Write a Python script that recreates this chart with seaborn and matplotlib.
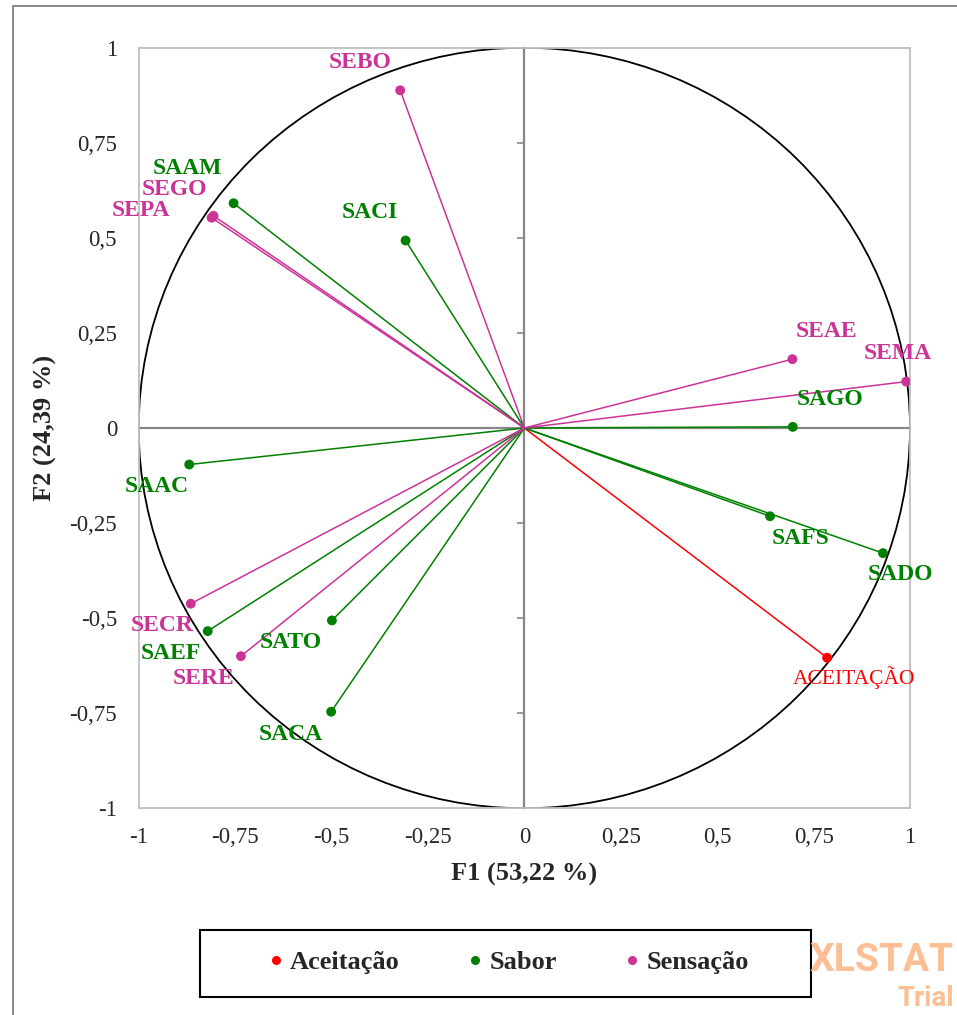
import matplotlib
matplotlib.use("Agg")
import matplotlib.pyplot as plt
import seaborn as sns
import pandas as pd
from matplotlib.patches import Circle, Rectangle
from matplotlib.lines import Line2D

# ---------------- data ----------------
variables = ["SEBO", "SAAM", "SEGO", "SEPA", "SACI", "SEAE", "SEMA", "SAGO",
             "SAAC", "SAFS", "SADO", "SECR", "SAEF", "SATO", "SERE", "SACA",
             "ACEITAÇÃO"]
groups = ["Sensação", "Sabor", "Sensação", "Sensação", "Sabor", "Sensação",
          "Sensação", "Sabor", "Sabor", "Sabor", "Sabor", "Sensação", "Sabor",
          "Sabor", "Sensação", "Sabor", "Aceitação"]
f1 = [-0.322, -0.754, -0.806, -0.811, -0.308, 0.695, 0.990, 0.696,
      -0.869, 0.637, 0.930, -0.865, -0.821, -0.499, -0.735, -0.501, 0.785]
f2 = [0.888, 0.591, 0.558, 0.553, 0.493, 0.181, 0.122, 0.003,
      -0.096, -0.232, -0.329, -0.462, -0.534, -0.506, -0.600, -0.746, -0.604]

hue_order = ["Aceitação", "Sabor", "Sensação"]
tick_vals = [-1, -0.75, -0.5, -0.25, 0, 0.25, 0.5, 0.75, 1]
tick_labels = ["-1", "-0,75", "-0,5", "-0,25", "0", "0,25", "0,5", "0,75", "1"]
x_title = "F1 (53,22 %)"
y_title = "F2 (24,39 %)"

# ---------------- style ----------------
palette = {"Aceitação": "#FF0000", "Sabor": "#008000", "Sensação": "#CC3399"}
# label offsets (pixels, cap-centre relative to point; +y = up)
label_offsets = {
    "SEBO": (-40, 30), "SAAM": (-46, 37), "SEGO": (-39, 29), "SEPA": (-71, 9),
    "SACI": (-36, 30), "SEAE": (34, 30), "SEMA": (-8, 30), "SAGO": (37, 30),
    "SAAC": (-32, -20), "SAFS": (31, -20), "SADO": (17, -19), "SECR": (-29, -20),
    "SAEF": (-37, -20), "SATO": (-41, -20), "SERE": (-37, -20), "SACA": (-40, -20),
    "ACEITAÇÃO": (27, -19),
}

sns.set_style("white")
plt.rcParams["font.family"] = ["Liberation Serif", "DejaVu Serif"]

W, H = 957, 1015
fig = plt.figure(figsize=(W / 100, H / 100), dpi=100)


def fx(px):
    return px / W


def fy(py):
    return 1 - py / H


L, R, T, B = 138.7, 910.0, 47.7, 808.3
pos = [fx(L), fy(B), (R - L) / W, (B - T) / H]

# underlying axes: zero axes with tick marks
ax2 = fig.add_axes(pos)
ax2.set_xlim(-1, 1)
ax2.set_ylim(-1, 1)
for s in ["top", "right"]:
    ax2.spines[s].set_visible(False)
for s in ["left", "bottom"]:
    ax2.spines[s].set_position(("data", 0))
    ax2.spines[s].set_color("#878787")
    ax2.spines[s].set_linewidth(1.6)
ax2.set_yticks(tick_vals)
ax2.set_xticks([])
ax2.tick_params(axis="y", direction="out", length=5, width=1.2,
                color="#878787", labelleft=False, left=True)
ax2.set_facecolor("white")

# main axes
ax = fig.add_axes(pos)
ax.patch.set_visible(False)

df = pd.DataFrame({"var": variables, "grupo": groups, "F1": f1, "F2": f2})
origin = df.assign(F1=0.0, F2=0.0)
lines = pd.concat([origin, df]).reset_index(drop=True)

ax.add_patch(Circle((0, 0), 1, fill=False, ec="black", lw=1.3, zorder=2))

sns.lineplot(data=lines, x="F1", y="F2", hue="grupo", units="var",
             estimator=None, sort=False, palette=palette, hue_order=hue_order,
             legend=False, linewidth=1.1, ax=ax, zorder=3)
sns.scatterplot(data=df, x="F1", y="F2", hue="grupo", palette=palette,
                hue_order=hue_order, s=50, edgecolor="none", linewidth=0,
                ax=ax, zorder=4, legend=False)

for v, g, x, y in zip(variables, groups, f1, f2):
    dx, dy = label_offsets[v]
    if g == "Aceitação":
        fs, fw, cap = 15.5, "normal", 14.2
    else:
        fs, fw, cap = 17, "bold", 15.6
    ax.annotate(v, (x, y), xytext=(dx * 0.72, (dy - cap / 2) * 0.72),
                textcoords="offset points", ha="center", va="baseline",
                color=palette[g], fontsize=fs, fontweight=fw,
                annotation_clip=False, zorder=5)

ax.set_xlim(-1, 1)
ax.set_ylim(-1, 1)
for s in ax.spines.values():
    s.set_visible(True)
    s.set_color("#BEBEBE")
    s.set_linewidth(1.3)
ax.set_xticks(tick_vals)
ax.set_xticklabels(tick_labels)
ax.set_yticks(tick_vals)
ax.set_yticklabels(tick_labels)
ax.tick_params(axis="x", length=0, pad=13.5, labelsize=16.5)
ax.tick_params(axis="y", length=0, pad=15.6, labelsize=16.5)
ax.set_xlabel(x_title, fontsize=19, fontweight="bold")
ax.set_ylabel(y_title, fontsize=19, fontweight="bold")
ax.xaxis.set_label_coords(0.5, (B - 863) / (B - T))
ax.yaxis.set_label_coords((57.3 - L) / (R - L), 0.5)

# legend
handles = [Line2D([], [], marker="o", ls="", color=palette[g],
                  markeredgewidth=0, markersize=6.5) for g in hue_order]
fig.legend(handles, hue_order, loc="center",
           bbox_to_anchor=(fx(509), fy(962.7)), ncol=3, frameon=False,
           handlelength=0.5, handletextpad=0.3, columnspacing=2.6,
           borderpad=0,
           prop={"family": "Liberation Serif", "weight": "bold", "size": 19})
fig.add_artist(Rectangle((fx(199.5), fy(996.5)), (810.5 - 199.5) / W,
                         (996.5 - 929.5) / H, transform=fig.transFigure,
                         fill=False, ec="black", lw=1.5))

# outer chart border
fig.add_artist(Rectangle((fx(13), fy(1040)), (990 - 13) / W, (1040 - 6) / H,
                         transform=fig.transFigure, fill=False,
                         ec="#8a8a8a", lw=1.4))

# watermark
fig.text(fx(954), fy(971), "XLSTAT", ha="right", va="baseline",
         fontsize=28, family=["Roboto", "DejaVu Sans"], weight="bold",
         color="#FDBE94")
fig.text(fx(954), fy(1006), "Trial", ha="right", va="baseline",
         fontsize=20, family=["Roboto", "DejaVu Sans"], weight="bold",
         color="#FDBE94")

fig.savefig("out.png", dpi=100)
